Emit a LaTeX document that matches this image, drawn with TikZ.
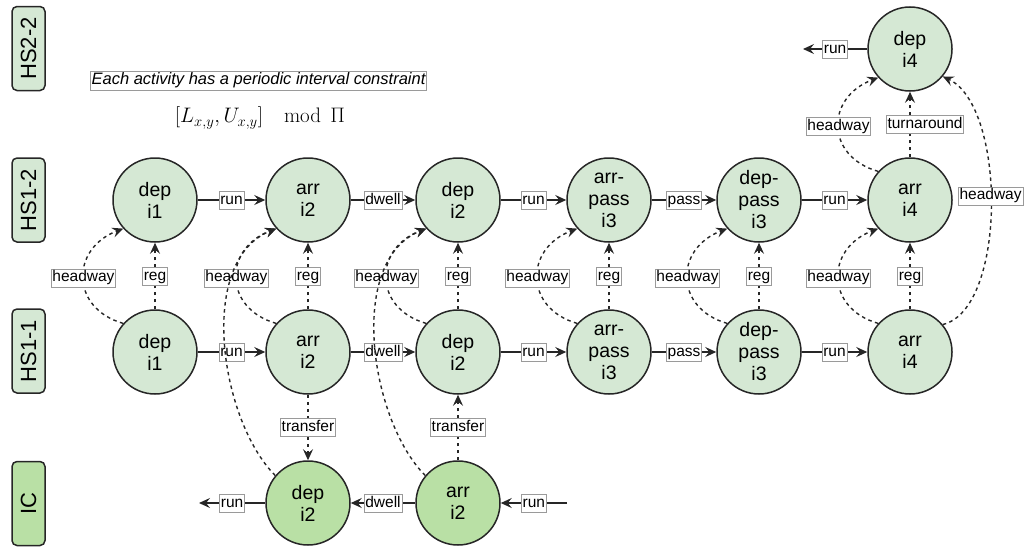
\RequirePackage{fix-cm}
\documentclass[tikz,border=0pt]{standalone}
\usepackage{amsmath}
\usepackage[no-math]{fontspec}
\setmainfont{Liberation Sans}
\usetikzlibrary{arrows.meta,calc}

\definecolor{lanefill}{HTML}{D5E8D4}
\definecolor{icfill}{HTML}{B9E0A5}
\definecolor{lblborder}{HTML}{9A9A9A}

\tikzset{
  ev/.style={circle, draw=black!85, line width=1.5pt, fill=lanefill, minimum size=84pt,
    inner sep=0pt, align=center, font=\fontsize{19.5}{22}\selectfont},
  evic/.style={ev, fill=icfill},
  lane/.style={draw=black!85, line width=1.5pt, fill=lanefill, rounded corners=5pt, rotate=90,
    minimum width=84pt, minimum height=33pt, inner sep=0pt, font=\fontsize{22}{24}\selectfont},
  laneic/.style={lane, fill=icfill},
  lbl/.style={solid, fill=white, draw=lblborder, line width=0.6pt, inner xsep=1.2pt, inner ysep=1.5pt,
    text height=11.5pt, text depth=3.5pt, font=\fontsize{15.5}{18}\selectfont},
  flow/.style={line width=1.4pt, draw=black!85, -{Stealth[length=11pt,width=10pt,inset=4pt]}},
  soft/.style={flow, dash pattern=on 3.5pt off 3.5pt},
}

\begin{document}
\begin{tikzpicture}[x=1pt,y=-1pt]
\useasboundingbox (0,0) rectangle (1024,546);

% lane labels
\node[lane]   (lhs22) at (28.5,48.5) {HS2-2};
\node[lane]   (lhs12) at (28.5,200)  {HS1-2};
\node[lane]   (lhs11) at (28.5,351)  {HS1-1};
\node[laneic] (lic)   at (28.5,503.5) {IC};

% note and formula
\node[draw=lblborder, line width=0.6pt, inner xsep=1pt, inner ysep=2pt,
  font=\fontsize{16.5}{19}\selectfont\itshape] (note) at (258.5,80.5)
  {Each activity has a periodic interval constraint};
\node (formula) at (260,118)
  {\fontsize{21}{26}\selectfont $[L_{x,y}, U_{x,y}]\mkern18mu\mathrm{mod}\mkern8mu\Pi$};

% events, HS2-2
\node[ev] (u6) at (910,49) {dep\\i4};
% events, HS1-2
\node[ev] (t1) at (155,200) {dep\\i1};
\node[ev] (t2) at (308,200) {arr\\i2};
\node[ev] (t3) at (458,200) {dep\\i2};
\node[ev] (t4) at (609,200) {arr-\\pass\\i3};
\node[ev] (t5) at (759,200) {dep-\\pass\\i3};
\node[ev] (t6) at (910,200) {arr\\i4};
% events, HS1-1
\node[ev] (b1) at (155,352) {dep\\i1};
\node[ev] (b2) at (308,352) {arr\\i2};
\node[ev] (b3) at (458,352) {dep\\i2};
\node[ev] (b4) at (609,352) {arr-\\pass\\i3};
\node[ev] (b5) at (759,352) {dep-\\pass\\i3};
\node[ev] (b6) at (910,352) {arr\\i4};
% events, IC
\node[evic] (c2) at (308,503) {dep\\i2};
\node[evic] (c3) at (458,503) {arr\\i2};

% free ends
\coordinate (u6out) at (803,49);
\coordinate (icin)  at (567,503);
\coordinate (icout) at (199,503);

% running and dwelling
\foreach \r in {t,b}{
  \draw[flow] (\r1) -- node[lbl]{run}   (\r2);
  \draw[flow] (\r2) -- node[lbl]{dwell} (\r3);
  \draw[flow] (\r3) -- node[lbl]{run}   (\r4);
  \draw[flow] (\r4) -- node[lbl]{pass}  (\r5);
  \draw[flow] (\r5) -- node[lbl]{run}   (\r6);
}
\draw[flow] (u6) -- node[lbl]{run} (u6out);
\draw[flow] (icin) -- node[lbl]{run} (c3);
\draw[flow] (c3) -- node[lbl]{dwell} (c2);
\draw[flow] (c2) -- node[lbl]{run} (icout);

% headways between the two HS1 lines
\foreach \i in {1,...,6}{
  \draw[soft] (b\i.138) .. controls +(-53,-15) and +(-53,20) .. (t\i.222)
    node[lbl,pos=0.5]{headway};
}
\draw[soft] (t6.138) .. controls +(-53,-15) and +(-53,20) .. (u6.222)
  node[lbl,pos=0.5]{headway};

% regularity
\foreach \i in {1,...,6}{
  \draw[soft] (b\i) -- node[lbl]{reg} (t\i);
}

% turnaround and the outer headway
\draw[soft] (t6) -- node[lbl,xshift=15pt]{turnaround} (u6);
\draw[soft] (b6.40) .. controls +(64,-15) and +(64,30) .. (u6.-40)
  node[lbl,pos=0.53]{headway};

% transfers
\draw[soft] (b2) -- node[lbl]{transfer} (c2);
\draw[soft] (c3) -- node[lbl]{transfer} (b3);

% headways from the IC line
\draw[soft] (c2.140) .. controls +(-55,-55) and +(-80,32) .. (t2.222);
\draw[soft] (c3.140) .. controls +(-55,-55) and +(-80,32) .. (t3.222);

\end{tikzpicture}
\end{document}
